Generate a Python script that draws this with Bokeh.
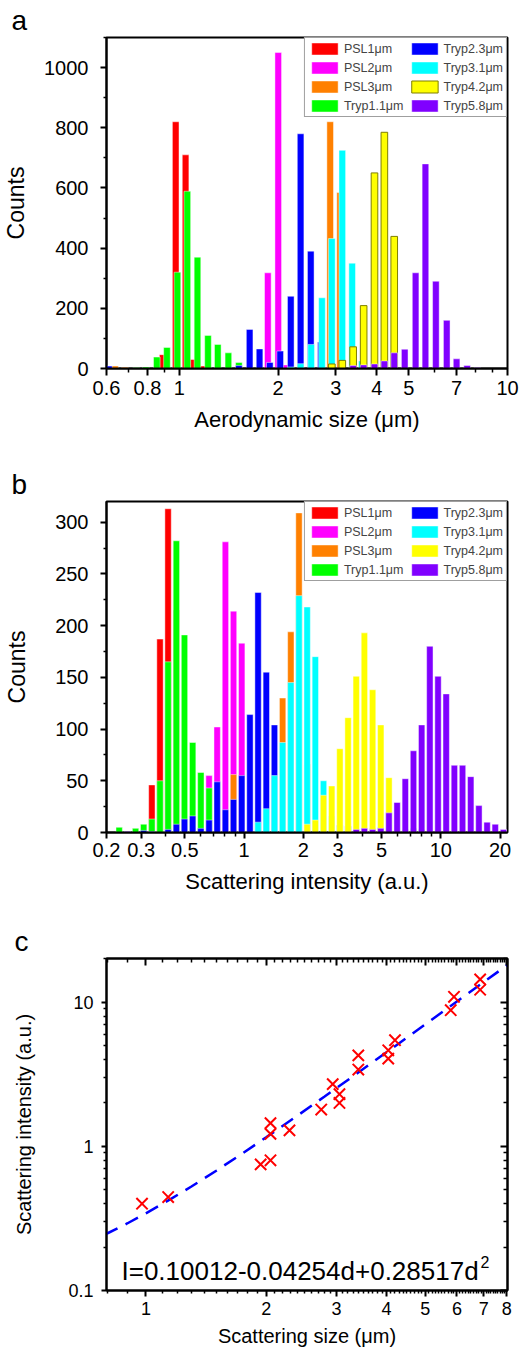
from bokeh.plotting import figure
from bokeh.models import (Range1d, FixedTicker, CustomJSTickFormatter, LogAxis, Label,
                          Legend, LegendItem, ColumnDataSource)
from bokeh.layouts import column
from bokeh.embed import file_html
from bokeh.resources import INLINE

FONT = "Liberation Sans"

series_names = ["PSL1μm", "PSL2μm", "PSL3μm", "Tryp1.1μm",
                "Tryp2.3μm", "Tryp3.1μm", "Tryp4.2μm", "Tryp5.8μm"]
series_colors = ["#FF0000", "#FF00FF", "#FF8000", "#00FF00",
                 "#0000FF", "#00FFFF", "#FFFF00", "#8000FF"]

# ---------------- panel a: aerodynamic size histograms ----------------
a_psl1_x = [0.890, 0.975, 1.045, 1.103, 1.181]
a_psl1_n = [46, 820, 710, 30, 8]
a_psl2_x = [1.861, 2.002, 2.112]
a_psl2_n = [318, 1050, 12]
a_psl3_x = [0.637, 0.683, 2.882, 3.090]
a_psl3_n = [8, 4, 820, 585]
a_t11_x = [0.739, 0.791, 0.854, 0.917, 0.987, 1.058, 1.136, 1.223, 1.310, 1.411, 1.519]
a_t11_n = [3, 5, 38, 70, 320, 589, 370, 110, 80, 52, 20]
a_t23_x = [0.610, 1.519, 1.638, 1.756, 1.887, 2.030, 2.186, 2.342, 2.515, 2.700]
a_t23_n = [8, 10, 130, 65, 20, 58, 240, 780, 390, 88]
a_t31_x = [2.186, 2.342, 2.522, 2.721, 2.916, 3.138, 3.363, 3.600]
a_t31_n = [5, 16, 80, 235, 432, 725, 350, 25]
a_t42_x = [2.916, 3.138, 3.386, 3.645, 3.933, 4.215, 4.517]
a_t42_n = [15, 27, 72, 209, 650, 785, 439]
a_t58_x = [3.386, 3.645, 3.933, 4.215, 4.517, 4.862, 5.248, 5.623, 6.050, 6.529, 6.996, 7.534, 8.089]
a_t58_n = [10, 12, 15, 25, 52, 64, 318, 680, 290, 160, 32, 10, 3]

a_xticks = [0.6, 0.8, 1, 2, 3, 4, 5, 7, 10]
a_xminor = [0.7, 0.9, 6, 8, 9]
a_yticks = [0, 200, 400, 600, 800, 1000]
a_yminor = [100, 300, 500, 700, 900, 1100]

# ---------------- panel b: scattering intensity histograms ----------------
b_psl1_x = [0.340, 0.374, 0.411, 0.453]
b_psl1_n = [46, 187, 313, 215]
b_psl2_x = [0.664, 0.730, 0.804, 0.884, 0.973]
b_psl2_n = [55, 102, 281, 214, 183]
b_psl3_x = [0.884, 1.570, 1.728, 1.901, 2.092]
b_psl3_n = [56, 130, 194, 309, 66]
b_t11_x = [0.232, 0.281, 0.309, 0.340, 0.374, 0.411, 0.453, 0.498, 0.548, 0.603, 0.664,
           4.498, 4.949, 6.595, 7.257, 7.986]
b_t11_n = [5, 4, 8, 13, 50, 165, 282, 191, 87, 58, 43, 4, 5, 3, 4, 3]
b_t23_x = [0.255, 0.309, 0.340, 0.411, 0.453, 0.498, 0.548, 0.603, 0.664, 0.730, 0.804,
           0.884, 0.973, 1.071, 1.178, 1.297, 1.427, 3.068, 3.376]
b_t23_n = [1, 2, 1, 3, 8, 13, 16, 4, 12, 49, 22, 32, 55, 114, 232, 155, 104, 7, 6]
b_t31_x = [1.178, 1.297, 1.427, 1.570, 1.728, 1.901, 2.092, 2.302, 2.533, 2.788, 3.068]
b_t31_n = [10, 23, 55, 87, 145, 229, 218, 170, 50, 16, 5]
b_t42_x = [2.092, 2.302, 2.533, 2.788, 3.068, 3.376, 3.715, 4.087, 4.498, 4.949, 5.446]
b_t42_n = [8, 12, 36, 45, 81, 111, 151, 193, 138, 104, 53]
b_t58_x = [0.255, 3.715, 4.087, 4.498, 4.949, 5.446, 5.993, 6.595, 7.257, 7.986, 8.787,
           9.670, 10.64, 11.71, 12.88, 14.18, 15.60, 17.17, 18.89, 20.79]
b_t58_n = [1, 3, 4, 3, 4, 19, 29, 52, 79, 104, 180, 151, 134, 65, 65, 54, 26, 10, 8, 3]

b_xticks = [0.2, 0.3, 0.5, 1, 2, 3, 5, 10, 20]
b_xminor = [0.4, 0.6, 0.7, 0.8, 0.9, 4, 6, 7, 8, 9]
b_yticks = [0, 50, 100, 150, 200, 250, 300]
b_yminor = [25, 75, 125, 175, 225, 275]

# ---------------- panel c: scattering intensity vs size ----------------
c_size = [0.978, 1.137, 1.937, 2.05, 2.05, 2.05, 2.287, 2.746, 2.934, 3.05, 3.05,
          3.40, 3.40, 4.04, 4.04, 4.20, 5.79, 5.90, 6.86, 6.86]
c_intensity = [0.400, 0.445, 0.750, 0.800, 1.22, 1.45, 1.29, 1.80, 2.70, 2.30, 2.00,
               4.28, 3.41, 4.64, 4.06, 5.45, 8.80, 10.9, 12.2, 14.4]
fit_coef = [0.10012, -0.04254, 0.28517]
fit_d = [0.79, 0.9, 1.0, 1.15, 1.3, 1.5, 1.75, 2.0, 2.4, 2.8, 3.3, 4.0, 5.0, 6.0, 7.0, 8.1]
fit_I = [fit_coef[0] + fit_coef[1] * d + fit_coef[2] * d * d for d in fit_d]

c_xticks = [1, 2, 3, 4, 5, 6, 7, 8]
c_xminor = [k / 10 for k in range(8, 81) if k % 10 != 0]
c_yticks = [0.1, 1, 10]
c_yminor = [0.2, 0.3, 0.4, 0.5, 0.6, 0.7, 0.8, 0.9, 2, 3, 4, 5, 6, 7, 8, 9, 20]

plain_fmt = "return String(tick);"
blank_fmt = "return '';"


def style_axis(ax, tick_size, label_size, tick_out, minor_out, label_standoff, title_standoff):
    ax.axis_line_width = 2
    ax.axis_line_color = "black"
    ax.major_tick_line_width = 2
    ax.minor_tick_line_width = 1.5
    ax.major_tick_line_color = "black"
    ax.minor_tick_line_color = "black"
    ax.major_tick_out = tick_out
    ax.major_tick_in = 0
    ax.minor_tick_out = minor_out
    ax.minor_tick_in = 0
    ax.major_label_text_font = FONT
    ax.major_label_text_font_size = tick_size
    ax.major_label_text_color = "black"
    ax.major_label_standoff = label_standoff
    ax.axis_label_text_font = FONT
    ax.axis_label_text_font_size = label_size
    ax.axis_label_text_font_style = "normal"
    ax.axis_label_text_color = "black"
    ax.axis_label_standoff = title_standoff


def base_fig(height, xr, yr, y_log, borders, letter):
    p = figure(width=527, height=height, x_axis_type="log",
               y_axis_type="log" if y_log else "linear",
               x_range=Range1d(*xr), y_range=Range1d(*yr),
               toolbar_location=None, output_backend="svg",
               min_border_left=borders[0], min_border_right=borders[1],
               min_border_top=borders[2], min_border_bottom=borders[3],
               title=letter)
    p.title.text_font = FONT
    p.title.text_font_size = "28px"
    p.title.text_font_style = "normal"
    p.title.text_color = "black"
    p.title.align = "left"
    p.title.offset = -(borders[0] - 8)
    p.title.standoff = 4
    p.xgrid.visible = False
    p.ygrid.visible = False
    p.outline_line_color = "black"
    p.outline_line_width = 2
    p.outline_line_alpha = 1
    p.background_fill_color = "white"
    p.border_fill_color = "white"
    return p


def hist_panel(p, data, k, yellow_edge):
    items = []
    for (xs, ns), name, col in zip(data, series_names, series_colors):
        src = ColumnDataSource(dict(left=[x / k for x in xs], right=[x * k for x in xs],
                                    top=ns, bottom=[0] * len(ns)))
        if col == "#FFFF00" and yellow_edge:
            lc, la = "#7F7F00", 1.0
        else:
            lc, la = "white", 0.45
        r = p.quad(left="left", right="right", top="top", bottom="bottom", source=src,
                   fill_color=col, line_color=lc, line_alpha=la, line_width=1)
        items.append(LegendItem(label=name, renderers=[r]))
    leg = Legend(items=items, ncols=2, location="top_right",
                 label_text_font=FONT, label_text_font_size="12.5px",
                 glyph_width=33, glyph_height=15, label_height=15,
                 label_standoff=3, spacing=4, padding=3, margin=0,
                 border_line_color="#404040", border_line_width=1,
                 background_fill_alpha=1.0)
    p.add_layout(leg)


# ---- panel a ----
pa = base_fig(440, (0.6, 10), (0, 1100), False, (103, 17, 36, 72), "a")
hist_panel(pa, [(a_psl1_x, a_psl1_n), (a_psl2_x, a_psl2_n), (a_psl3_x, a_psl3_n),
                (a_t11_x, a_t11_n), (a_t23_x, a_t23_n), (a_t31_x, a_t31_n),
                (a_t42_x, a_t42_n), (a_t58_x, a_t58_n)], 1.0235, True)
pa.xaxis.ticker = FixedTicker(ticks=a_xticks, minor_ticks=a_xminor)
pa.xaxis.formatter = CustomJSTickFormatter(code=plain_fmt)
pa.yaxis.ticker = FixedTicker(ticks=a_yticks, minor_ticks=a_yminor)
pa.xaxis.axis_label = "Aerodynamic size (μm)"
pa.yaxis.axis_label = "Counts"
style_axis(pa.xaxis[0], "20px", "22px", 7, 4, 5, 9)
style_axis(pa.yaxis[0], "20px", "23px", 6, 3, 12, 12)

# ---- panel b ----
pb = base_fig(465, (0.2, 21.8), (0, 320), False, (103, 17, 61, 73), "b")
hist_panel(pb, [(b_psl1_x, b_psl1_n), (b_psl2_x, b_psl2_n), (b_psl3_x, b_psl3_n),
                (b_t11_x, b_t11_n), (b_t23_x, b_t23_n), (b_t31_x, b_t31_n),
                (b_t42_x, b_t42_n), (b_t58_x, b_t58_n)], 1.038, False)
pb.xaxis.ticker = FixedTicker(ticks=b_xticks, minor_ticks=b_xminor)
pb.xaxis.formatter = CustomJSTickFormatter(code=plain_fmt)
pb.yaxis.ticker = FixedTicker(ticks=b_yticks, minor_ticks=b_yminor)
pb.xaxis.axis_label = "Scattering intensity (a.u.)"
pb.yaxis.axis_label = "Counts"
style_axis(pb.xaxis[0], "20px", "22px", 6, 4, 4, 9)
style_axis(pb.yaxis[0], "20px", "23px", 6, 3, 12, 22)

# ---- panel c ----
pc = base_fig(450, (0.797, 8.03), (0.1, 20.1), True, (100, 20, 53, 65), "c")
pc.line(fit_d, fit_I, line_color="#0000FF", line_width=2.5, line_dash="14 9")
pc.scatter(c_size, c_intensity, marker="x", size=16, line_color="#FF0000", line_width=2)
cx_ticker = FixedTicker(ticks=c_xticks, minor_ticks=c_xminor)
cy_ticker = FixedTicker(ticks=c_yticks, minor_ticks=c_yminor)
pc.xaxis.ticker = cx_ticker
pc.xaxis.formatter = CustomJSTickFormatter(code=plain_fmt)
pc.yaxis.ticker = cy_ticker
pc.yaxis.formatter = CustomJSTickFormatter(code=plain_fmt)
pc.xaxis.axis_label = "Scattering size (μm)"
pc.yaxis.axis_label = "Scattering intensity (a.u.)"
style_axis(pc.xaxis[0], "18px", "20px", 6, 3, 5, 7)
style_axis(pc.yaxis[0], "18px", "20px", 5, 3, 8, 30)

top_ax = LogAxis(ticker=FixedTicker(ticks=c_xticks, minor_ticks=c_xminor),
                 formatter=CustomJSTickFormatter(code=blank_fmt))
style_axis(top_ax, "1px", "1px", 0, 0, 0, 0)
top_ax.major_tick_in = 7
top_ax.minor_tick_in = 4
pc.add_layout(top_ax, "above")
right_ax = LogAxis(ticker=FixedTicker(ticks=c_yticks, minor_ticks=c_yminor),
                   formatter=CustomJSTickFormatter(code=blank_fmt))
style_axis(right_ax, "1px", "1px", 0, 0, 0, 0)
right_ax.major_tick_in = 7
right_ax.minor_tick_in = 4
pc.add_layout(right_ax, "right")

pc.add_layout(Label(x=15, y=20, x_units="screen", y_units="screen",
                    text="I=0.10012-0.04254d+0.28517d", text_font=FONT,
                    text_font_size="26px", text_color="black", text_baseline="alphabetic"))
pc.add_layout(Label(x=374, y=29, x_units="screen", y_units="screen",
                    text="2", text_font=FONT,
                    text_font_size="16px", text_color="black", text_baseline="alphabetic"))

layout = column(pa, pb, pc, spacing=0)
open("out.html", "w").write(file_html(layout, INLINE))
